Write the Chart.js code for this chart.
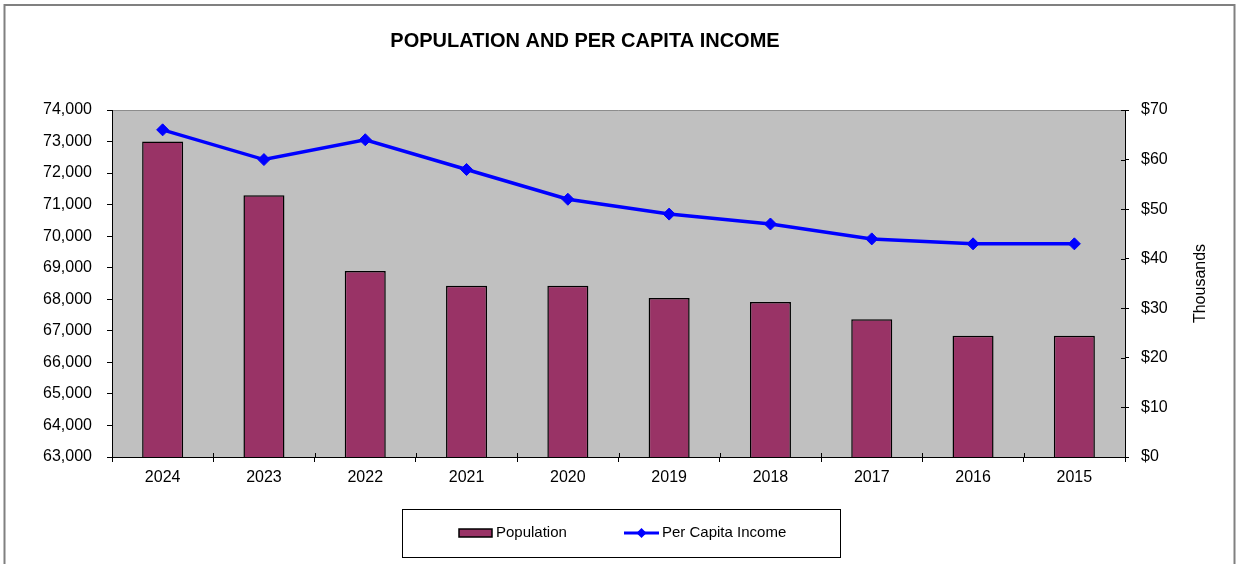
<!DOCTYPE html>
<html>
<head>
<meta charset="utf-8">
<script src="https://cdn.jsdelivr.net/npm/chart.js@4.4.1/dist/chart.umd.min.js"></script>
<style>
  html, body { margin: 0; padding: 0; background: #ffffff; }
  #wrap { width: 1241px; height: 564px; }
</style>
</head>
<body>
<div id="wrap"><canvas id="c" width="1241" height="564"></canvas></div>
<script>
// Fiscal years, most recent first
const years = ['2024', '2023', '2022', '2021', '2020', '2019', '2018', '2017', '2016', '2015'];
// Population (persons)
const population = [73000, 71300, 68900, 68430, 68430, 68040, 67910, 67370, 66840, 66840];
// Per capita income, in thousands of dollars
const perCapitaIncome = [66, 60, 64, 58, 52, 49, 47, 44, 43, 43];

// Axis ranges
const populationAxis = { min: 63000, max: 74000, step: 1000 };
const incomeAxis = { min: 0, max: 70, step: 10 };

const chartTitle = 'POPULATION AND PER CAPITA INCOME';
const incomeAxisTitle = 'Thousands';

const FONT = '"Liberation Sans", Arial, Helvetica, sans-serif';
const BAR_COLOR = '#993366';
const LINE_COLOR = '#0000FF';
const PLOT_BG = '#C0C0C0';

// Frame, plot background and the plot's top edge
const backdrop = {
  id: 'backdrop',
  beforeDraw(chart) {
    const ctx = chart.ctx;
    const a = chart.chartArea;
    ctx.save();
    ctx.fillStyle = '#ffffff';
    ctx.fillRect(0, 0, chart.width, chart.height);
    ctx.strokeStyle = '#808080';
    ctx.lineWidth = 2;
    ctx.strokeRect(4.5, 5, 1230, 600);
    ctx.fillStyle = PLOT_BG;
    ctx.fillRect(a.left, a.top, a.right - a.left, a.bottom - a.top);
    ctx.strokeStyle = '#8c8c8c';
    ctx.lineWidth = 1;
    ctx.beginPath();
    ctx.moveTo(a.left, a.top + 0.5);
    ctx.lineTo(a.right, a.top + 0.5);
    ctx.stroke();
    ctx.restore();
  }
};

// Title, right-axis caption, inner tick marks and the boxed legend
const decorations = {
  id: 'decorations',
  afterDraw(chart) {
    const ctx = chart.ctx;
    const a = chart.chartArea;
    const yR = chart.scales.yIncome;
    ctx.save();

    // title
    ctx.fillStyle = '#000';
    ctx.font = 'bold 20px ' + FONT;
    ctx.textAlign = 'center';
    ctx.textBaseline = 'middle';
    ctx.fillText(chartTitle, 585, 41);

    // right axis caption, reading upward
    ctx.font = '16px ' + FONT;
    ctx.translate(1201, (a.top + a.bottom) / 2);
    ctx.rotate(-Math.PI / 2);
    ctx.fillText(incomeAxisTitle, 0, 0);
    ctx.setTransform(1, 0, 0, 1, 0, 0);

    // inner halves of the crossing tick marks
    ctx.strokeStyle = '#000';
    ctx.lineWidth = 1;
    ctx.beginPath();
    yR.ticks.forEach(t => {
      const py = Math.round(yR.getPixelForValue(t.value)) + 0.5;
      ctx.moveTo(a.right - 4, py);
      ctx.lineTo(a.right, py);
    });
    const n = years.length;
    for (let i = 0; i <= n; i++) {
      const px = Math.round(a.left + i * (a.right - a.left) / n) + 0.5;
      ctx.moveTo(px, a.bottom - 4);
      ctx.lineTo(px, a.bottom);
    }
    ctx.stroke();

    // legend box
    ctx.strokeStyle = '#000';
    ctx.lineWidth = 1;
    ctx.strokeRect(402.5, 509.5, 438, 48);
    const ds = chart.data.datasets;
    const cy = 533;
    ctx.font = '15px ' + FONT;
    ctx.textAlign = 'left';
    ctx.textBaseline = 'middle';
    // bar entry
    ctx.fillStyle = ds[0].backgroundColor;
    ctx.fillRect(459, cy - 4, 33, 8);
    ctx.lineWidth = 1.5;
    ctx.strokeRect(459, cy - 4, 33, 8);
    ctx.fillStyle = '#000';
    ctx.fillText(ds[0].label, 496, cy);
    // line entry
    ctx.strokeStyle = ds[1].borderColor;
    ctx.lineWidth = 3;
    ctx.beginPath();
    ctx.moveTo(624, cy);
    ctx.lineTo(659, cy);
    ctx.stroke();
    ctx.fillStyle = ds[1].borderColor;
    ctx.beginPath();
    ctx.moveTo(641.5, cy - 5);
    ctx.lineTo(646.5, cy);
    ctx.lineTo(641.5, cy + 5);
    ctx.lineTo(636.5, cy);
    ctx.closePath();
    ctx.fill();
    ctx.fillStyle = '#000';
    ctx.fillText(ds[1].label, 662, cy);

    ctx.restore();
  }
};

new Chart(document.getElementById('c'), {
  data: {
    labels: years,
    datasets: [
      {
        type: 'bar',
        label: 'Population',
        data: population,
        yAxisID: 'yPop',
        backgroundColor: BAR_COLOR,
        borderColor: '#000000',
        borderWidth: 1.5,
        borderSkipped: false,
        barPercentage: 0.405,
        categoryPercentage: 1,
        order: 1
      },
      {
        type: 'line',
        label: 'Per Capita Income',
        data: perCapitaIncome,
        yAxisID: 'yIncome',
        borderColor: LINE_COLOR,
        backgroundColor: LINE_COLOR,
        borderWidth: 3.5,
        pointStyle: 'rectRot',
        pointRadius: 6,
        pointBorderWidth: 1,
        pointBackgroundColor: LINE_COLOR,
        pointBorderColor: LINE_COLOR,
        tension: 0,
        fill: false,
        order: 0
      }
    ]
  },
  options: {
    responsive: false,
    animation: false,
    devicePixelRatio: 1,
    layout: { padding: { top: 110, left: 0, right: 0, bottom: 0 } },
    plugins: {
      legend: { display: false },
      title: { display: false },
      tooltip: { enabled: false }
    },
    scales: {
      x: {
        type: 'category',
        offset: true,
        grid: { offset: true, drawOnChartArea: false, drawTicks: true, tickLength: 5, color: '#000' },
        border: { display: true, color: '#000', width: 1 },
        ticks: { color: '#000', font: { family: FONT, size: 16 }, padding: 6, maxRotation: 0 },
        afterFit(s) { s.height = 107; }
      },
      yPop: {
        type: 'linear',
        position: 'left',
        min: populationAxis.min,
        max: populationAxis.max,
        grid: { drawOnChartArea: false, drawTicks: true, tickLength: 5, color: '#000' },
        border: { display: true, color: '#000', width: 1 },
        ticks: {
          stepSize: populationAxis.step,
          color: '#000',
          font: { family: FONT, size: 16 },
          padding: 15,
          callback: v => v.toLocaleString('en-US')
        },
        afterFit(s) { s.width = 112; }
      },
      yIncome: {
        type: 'linear',
        position: 'right',
        min: incomeAxis.min,
        max: incomeAxis.max,
        grid: { drawOnChartArea: false, drawTicks: true, tickLength: 4, color: '#000' },
        border: { display: true, color: '#000', width: 1 },
        ticks: {
          stepSize: incomeAxis.step,
          color: '#000',
          font: { family: FONT, size: 16 },
          padding: 12,
          callback: v => '$' + v
        },
        afterFit(s) { s.width = 116; }
      }
    }
  },
  plugins: [backdrop, decorations]
});
</script>
</body>
</html>
